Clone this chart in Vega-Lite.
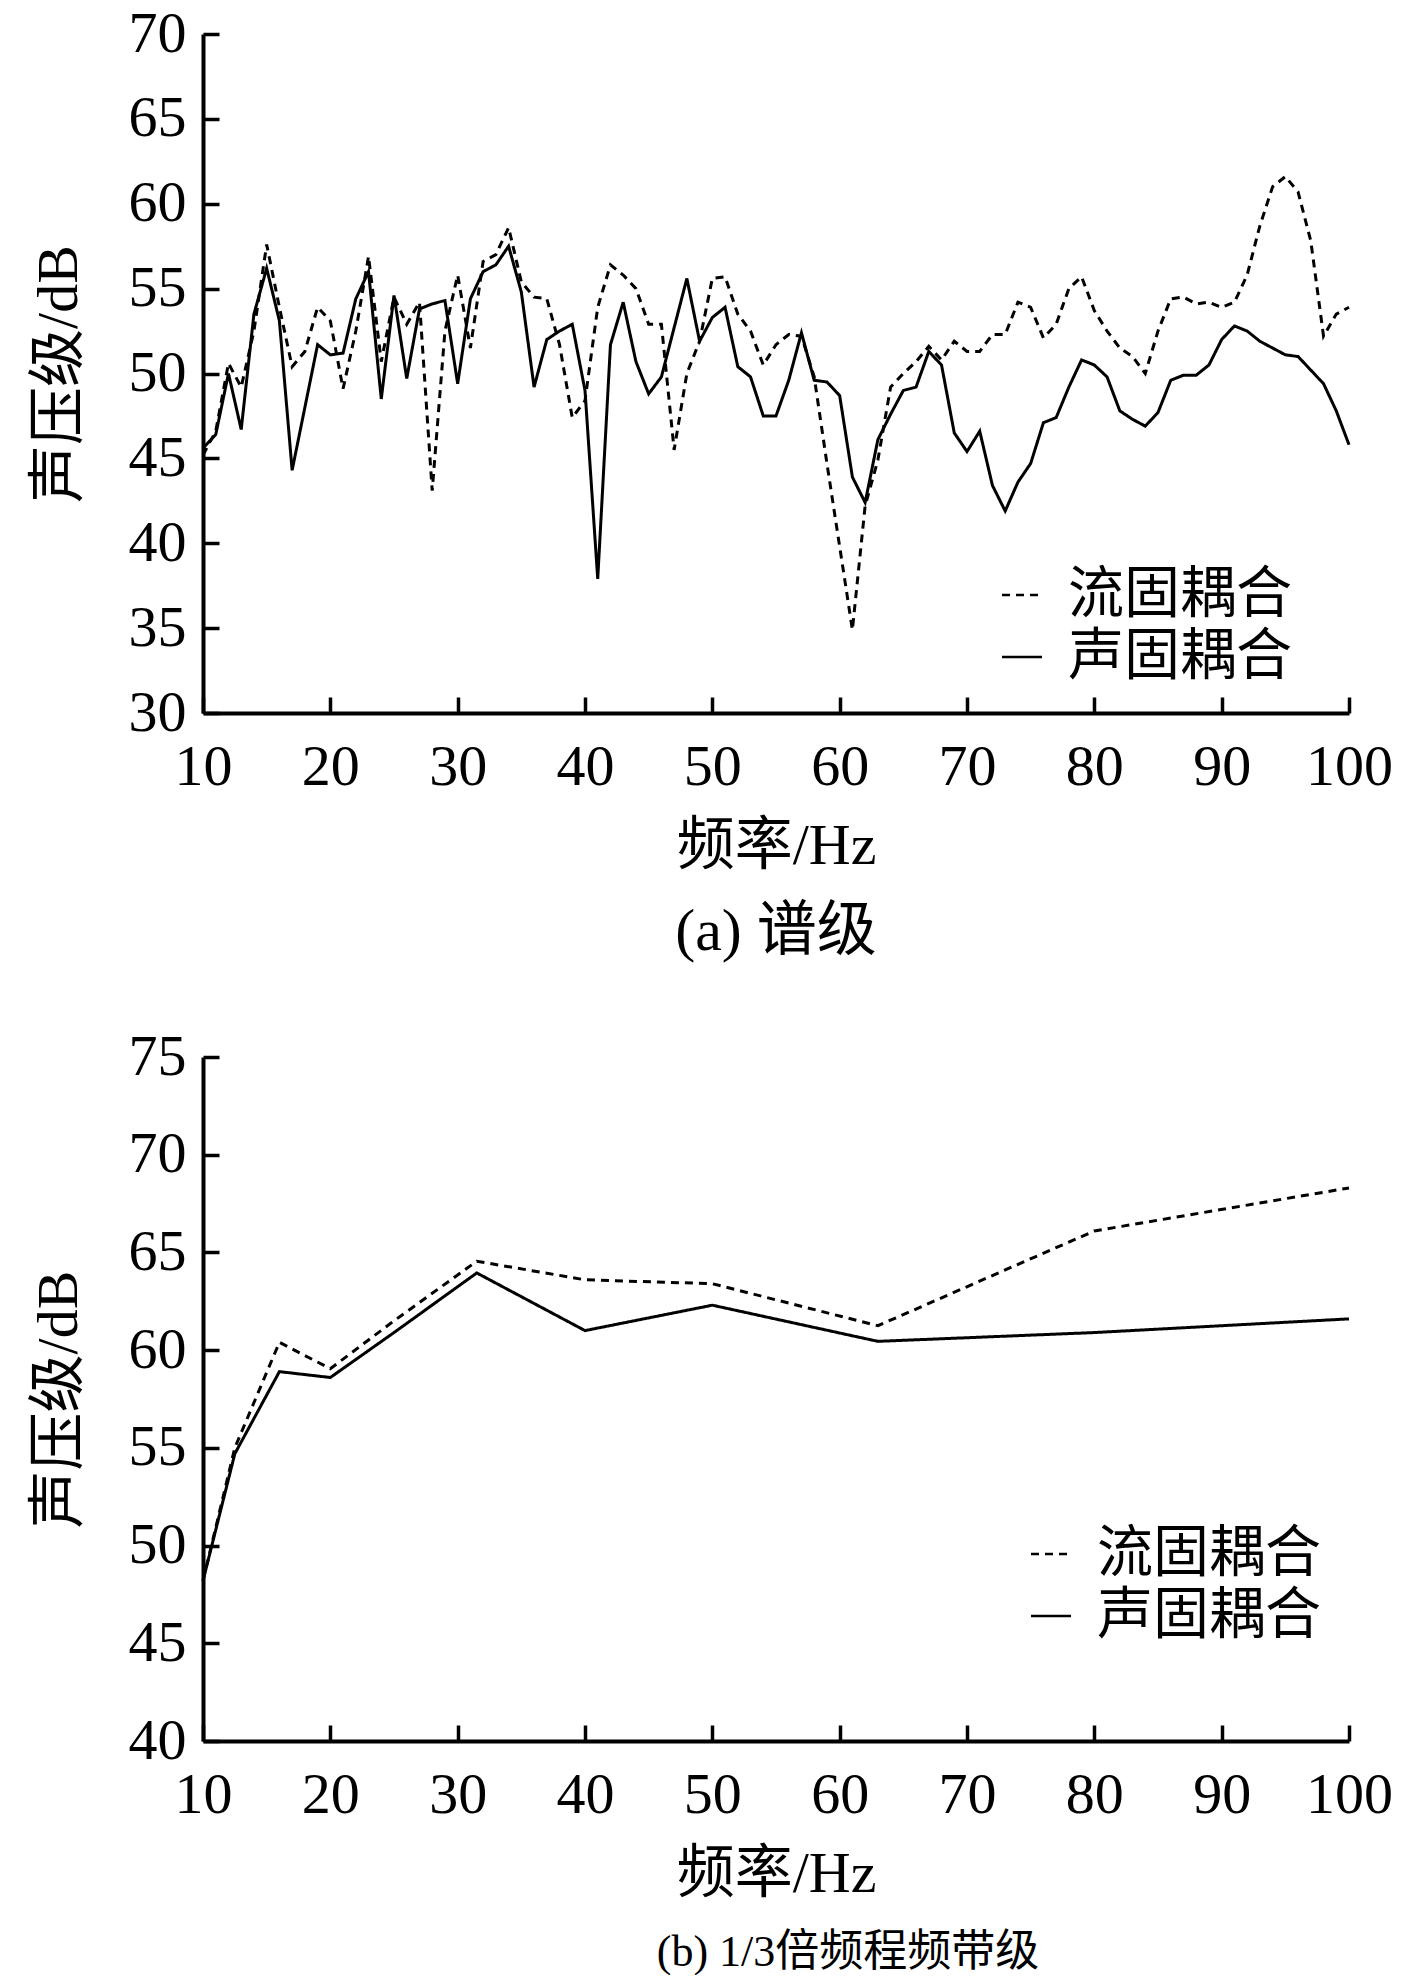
{
  "$schema": "https://vega.github.io/schema/vega-lite/v6.json",
  "background": "white",
  "padding": {"left": 30, "top": 5, "right": 0, "bottom": 0},
  "spacing": 66,
  "resolve": {"scale": {"strokeDash": "independent"}, "legend": {"strokeDash": "independent"}},
  "config": {
    "view": {"stroke": null},
    "axis": {
      "domainColor": "black", "domainWidth": 4, "tickColor": "black", "tickWidth": 3.5, "tickSize": -16,
      "labelFont": "Liberation Serif", "labelFontSize": 58, "labelColor": "black",
      "titleFont": "Liberation Serif, Noto Sans CJK SC", "titleFontSize": 58, "titleFontWeight": "normal", "titleColor": "black",
      "grid": false, "labelFlush": false, "labelOverlap": false
    },
    "axisX": {"labelPadding": 41, "titlePadding": 21},
    "axisY": {"labelPadding": 33, "titlePadding": 40},
    "legend": {
      "title": null, "symbolType": "stroke", "symbolSize": 1600, "symbolStrokeWidth": 2.5, "symbolStrokeColor": "black",
      "labelFont": "Noto Sans CJK SC", "labelFontSize": 56, "labelColor": "black", "labelOffset": 18, "labelLimit": 0, "rowPadding": 6, "padding": 0
    }
  },
  "datasets": {
    "spectrum": [
      {"freq":10,"series":"声固耦合","level":45.6},{"freq":11,"series":"声固耦合","level":46.4},{"freq":12,"series":"声固耦合","level":50.0},{"freq":13,"series":"声固耦合","level":46.7},{"freq":14,"series":"声固耦合","level":53.5},{"freq":15,"series":"声固耦合","level":56.2},{"freq":16,"series":"声固耦合","level":53.1},{"freq":17,"series":"声固耦合","level":44.3},{"freq":18,"series":"声固耦合","level":48.0},{"freq":19,"series":"声固耦合","level":51.7},
      {"freq":20,"series":"声固耦合","level":51.1},{"freq":21,"series":"声固耦合","level":51.2},{"freq":22,"series":"声固耦合","level":54.4},{"freq":23,"series":"声固耦合","level":56.0},{"freq":24,"series":"声固耦合","level":48.5},{"freq":25,"series":"声固耦合","level":54.6},{"freq":26,"series":"声固耦合","level":49.7},{"freq":27,"series":"声固耦合","level":53.8},{"freq":28,"series":"声固耦合","level":54.1},{"freq":29,"series":"声固耦合","level":54.3},
      {"freq":30,"series":"声固耦合","level":49.4},{"freq":31,"series":"声固耦合","level":54.4},{"freq":32,"series":"声固耦合","level":56.0},{"freq":33,"series":"声固耦合","level":56.4},{"freq":34,"series":"声固耦合","level":57.5},{"freq":35,"series":"声固耦合","level":54.8},{"freq":36,"series":"声固耦合","level":49.2},{"freq":37,"series":"声固耦合","level":52.0},{"freq":38,"series":"声固耦合","level":52.5},{"freq":39,"series":"声固耦合","level":52.9},
      {"freq":40,"series":"声固耦合","level":49.0},{"freq":41,"series":"声固耦合","level":37.9},{"freq":42,"series":"声固耦合","level":51.7},{"freq":43,"series":"声固耦合","level":54.2},{"freq":44,"series":"声固耦合","level":50.7},{"freq":45,"series":"声固耦合","level":48.8},{"freq":46,"series":"声固耦合","level":49.8},{"freq":47,"series":"声固耦合","level":52.7},{"freq":48,"series":"声固耦合","level":55.6},{"freq":49,"series":"声固耦合","level":51.9},
      {"freq":50,"series":"声固耦合","level":53.3},{"freq":51,"series":"声固耦合","level":53.9},{"freq":52,"series":"声固耦合","level":50.4},{"freq":53,"series":"声固耦合","level":49.8},{"freq":54,"series":"声固耦合","level":47.5},{"freq":55,"series":"声固耦合","level":47.5},{"freq":56,"series":"声固耦合","level":49.6},{"freq":57,"series":"声固耦合","level":52.4},{"freq":58,"series":"声固耦合","level":49.6},{"freq":59,"series":"声固耦合","level":49.5},
      {"freq":60,"series":"声固耦合","level":48.7},{"freq":61,"series":"声固耦合","level":43.9},{"freq":62,"series":"声固耦合","level":42.4},{"freq":63,"series":"声固耦合","level":46.1},{"freq":64,"series":"声固耦合","level":47.6},{"freq":65,"series":"声固耦合","level":49.0},{"freq":66,"series":"声固耦合","level":49.2},{"freq":67,"series":"声固耦合","level":51.3},{"freq":68,"series":"声固耦合","level":50.5},{"freq":69,"series":"声固耦合","level":46.5},
      {"freq":70,"series":"声固耦合","level":45.4},{"freq":71,"series":"声固耦合","level":46.6},{"freq":72,"series":"声固耦合","level":43.4},{"freq":73,"series":"声固耦合","level":41.9},{"freq":74,"series":"声固耦合","level":43.6},{"freq":75,"series":"声固耦合","level":44.7},{"freq":76,"series":"声固耦合","level":47.1},{"freq":77,"series":"声固耦合","level":47.4},{"freq":78,"series":"声固耦合","level":49.2},{"freq":79,"series":"声固耦合","level":50.8},
      {"freq":80,"series":"声固耦合","level":50.5},{"freq":81,"series":"声固耦合","level":49.8},{"freq":82,"series":"声固耦合","level":47.8},{"freq":83,"series":"声固耦合","level":47.3},{"freq":84,"series":"声固耦合","level":46.9},{"freq":85,"series":"声固耦合","level":47.7},{"freq":86,"series":"声固耦合","level":49.6},{"freq":87,"series":"声固耦合","level":49.9},{"freq":88,"series":"声固耦合","level":49.9},{"freq":89,"series":"声固耦合","level":50.5},
      {"freq":90,"series":"声固耦合","level":52.0},{"freq":91,"series":"声固耦合","level":52.8},{"freq":92,"series":"声固耦合","level":52.5},{"freq":93,"series":"声固耦合","level":51.9},{"freq":94,"series":"声固耦合","level":51.5},{"freq":95,"series":"声固耦合","level":51.1},{"freq":96,"series":"声固耦合","level":51.0},{"freq":97,"series":"声固耦合","level":50.2},{"freq":98,"series":"声固耦合","level":49.4},{"freq":99,"series":"声固耦合","level":47.8},
      {"freq":100,"series":"声固耦合","level":45.8},
      {"freq":10,"series":"流固耦合","level":45.2},{"freq":11,"series":"流固耦合","level":46.6},{"freq":12,"series":"流固耦合","level":50.6},{"freq":13,"series":"流固耦合","level":49.2},{"freq":14,"series":"流固耦合","level":52.5},{"freq":15,"series":"流固耦合","level":57.6},{"freq":16,"series":"流固耦合","level":53.9},{"freq":17,"series":"流固耦合","level":50.4},{"freq":18,"series":"流固耦合","level":51.3},{"freq":19,"series":"流固耦合","level":53.9},
      {"freq":20,"series":"流固耦合","level":53.1},{"freq":21,"series":"流固耦合","level":49.1},{"freq":22,"series":"流固耦合","level":52.5},{"freq":23,"series":"流固耦合","level":56.9},{"freq":24,"series":"流固耦合","level":50.7},{"freq":25,"series":"流固耦合","level":54.5},{"freq":26,"series":"流固耦合","level":52.9},{"freq":27,"series":"流固耦合","level":54.2},{"freq":28,"series":"流固耦合","level":43.1},{"freq":29,"series":"流固耦合","level":52.5},
      {"freq":30,"series":"流固耦合","level":55.8},{"freq":31,"series":"流固耦合","level":51.5},{"freq":32,"series":"流固耦合","level":56.6},{"freq":33,"series":"流固耦合","level":57.0},{"freq":34,"series":"流固耦合","level":58.6},{"freq":35,"series":"流固耦合","level":55.4},{"freq":36,"series":"流固耦合","level":54.5},{"freq":37,"series":"流固耦合","level":54.4},{"freq":38,"series":"流固耦合","level":51.7},{"freq":39,"series":"流固耦合","level":47.4},
      {"freq":40,"series":"流固耦合","level":48.4},{"freq":41,"series":"流固耦合","level":53.9},{"freq":42,"series":"流固耦合","level":56.4},{"freq":43,"series":"流固耦合","level":55.8},{"freq":44,"series":"流固耦合","level":55.0},{"freq":45,"series":"流固耦合","level":52.9},{"freq":46,"series":"流固耦合","level":52.9},{"freq":47,"series":"流固耦合","level":45.5},{"freq":48,"series":"流固耦合","level":50.0},{"freq":49,"series":"流固耦合","level":51.9},
      {"freq":50,"series":"流固耦合","level":55.6},{"freq":51,"series":"流固耦合","level":55.7},{"freq":52,"series":"流固耦合","level":53.5},{"freq":53,"series":"流固耦合","level":52.5},{"freq":54,"series":"流固耦合","level":50.5},{"freq":55,"series":"流固耦合","level":51.7},{"freq":56,"series":"流固耦合","level":52.3},{"freq":57,"series":"流固耦合","level":52.2},{"freq":58,"series":"流固耦合","level":49.8},{"freq":59,"series":"流固耦合","level":44.7},
      {"freq":60,"series":"流固耦合","level":39.8},{"freq":61,"series":"流固耦合","level":34.9},{"freq":62,"series":"流固耦合","level":42.2},{"freq":63,"series":"流固耦合","level":44.9},{"freq":64,"series":"流固耦合","level":49.2},{"freq":65,"series":"流固耦合","level":50.0},{"freq":66,"series":"流固耦合","level":50.7},{"freq":67,"series":"流固耦合","level":51.6},{"freq":68,"series":"流固耦合","level":50.8},{"freq":69,"series":"流固耦合","level":51.9},
      {"freq":70,"series":"流固耦合","level":51.3},{"freq":71,"series":"流固耦合","level":51.3},{"freq":72,"series":"流固耦合","level":52.3},{"freq":73,"series":"流固耦合","level":52.3},{"freq":74,"series":"流固耦合","level":54.2},{"freq":75,"series":"流固耦合","level":53.9},{"freq":76,"series":"流固耦合","level":52.1},{"freq":77,"series":"流固耦合","level":52.9},{"freq":78,"series":"流固耦合","level":55.0},{"freq":79,"series":"流固耦合","level":55.7},
      {"freq":80,"series":"流固耦合","level":53.7},{"freq":81,"series":"流固耦合","level":52.5},{"freq":82,"series":"流固耦合","level":51.5},{"freq":83,"series":"流固耦合","level":51.0},{"freq":84,"series":"流固耦合","level":50.0},{"freq":85,"series":"流固耦合","level":52.5},{"freq":86,"series":"流固耦合","level":54.4},{"freq":87,"series":"流固耦合","level":54.5},{"freq":88,"series":"流固耦合","level":54.1},{"freq":89,"series":"流固耦合","level":54.2},
      {"freq":90,"series":"流固耦合","level":53.9},{"freq":91,"series":"流固耦合","level":54.2},{"freq":92,"series":"流固耦合","level":55.8},{"freq":93,"series":"流固耦合","level":58.7},{"freq":94,"series":"流固耦合","level":61.0},{"freq":95,"series":"流固耦合","level":61.6},{"freq":96,"series":"流固耦合","level":60.7},{"freq":97,"series":"流固耦合","level":57.8},{"freq":98,"series":"流固耦合","level":52.2},{"freq":99,"series":"流固耦合","level":53.5},
      {"freq":100,"series":"流固耦合","level":53.9}
    ],
    "octave": [
      {"freq":10,"series":"声固耦合","level":48.2},{"freq":12.5,"series":"声固耦合","level":54.7},{"freq":16,"series":"声固耦合","level":58.9},{"freq":20,"series":"声固耦合","level":58.6},{"freq":25,"series":"声固耦合","level":60.9},{"freq":31.5,"series":"声固耦合","level":63.95},{"freq":40,"series":"声固耦合","level":61.0},{"freq":50,"series":"声固耦合","level":62.3},{"freq":63,"series":"声固耦合","level":60.45},{"freq":80,"series":"声固耦合","level":60.9},{"freq":100,"series":"声固耦合","level":61.6},
      {"freq":10,"series":"流固耦合","level":48.2},{"freq":12.5,"series":"流固耦合","level":55.0},{"freq":16,"series":"流固耦合","level":60.4},{"freq":20,"series":"流固耦合","level":59.05},{"freq":25,"series":"流固耦合","level":61.5},{"freq":31.5,"series":"流固耦合","level":64.55},{"freq":40,"series":"流固耦合","level":63.6},{"freq":50,"series":"流固耦合","level":63.4},{"freq":63,"series":"流固耦合","level":61.25},{"freq":80,"series":"流固耦合","level":66.1},{"freq":100,"series":"流固耦合","level":68.3}
    ]
  },
  "vconcat": [
    {
      "width": 1146, "height": 679,
      "data": {"name": "spectrum"},
      "title": {"text": "(a) 谱级", "orient": "bottom", "offset": 28, "fontSize": 60, "font": "Liberation Serif, Noto Sans CJK SC", "fontWeight": "normal", "color": "black", "anchor": "middle"},
      "mark": {"type": "line", "color": "black", "strokeWidth": 3},
      "encoding": {
        "x": {"field": "freq", "type": "quantitative", "scale": {"domain": [10, 100], "nice": false, "zero": false}, "axis": {"title": "频率/Hz", "values": [10, 20, 30, 40, 50, 60, 70, 80, 90, 100]}},
        "y": {"field": "level", "type": "quantitative", "scale": {"domain": [30, 70], "nice": false, "zero": false}, "axis": {"title": "声压级/dB", "values": [30, 35, 40, 45, 50, 55, 60, 65, 70]}},
        "strokeDash": {"field": "series", "type": "nominal", "scale": {"domain": ["流固耦合", "声固耦合"], "range": [[8, 6], [1, 0]]}, "legend": {"orient": "none", "legendX": 791, "legendY": 533}}
      }
    },
    {
      "width": 1146, "height": 684,
      "data": {"name": "octave"},
      "title": {"text": "(b) 1/3倍频程频带级", "orient": "bottom", "offset": 28, "fontSize": 44, "font": "Liberation Serif, Noto Sans CJK SC", "fontWeight": "normal", "color": "black", "anchor": "middle", "dx": 72},
      "mark": {"type": "line", "color": "black", "strokeWidth": 3},
      "encoding": {
        "x": {"field": "freq", "type": "quantitative", "scale": {"domain": [10, 100], "nice": false, "zero": false}, "axis": {"title": "频率/Hz", "values": [10, 20, 30, 40, 50, 60, 70, 80, 90, 100]}},
        "y": {"field": "level", "type": "quantitative", "scale": {"domain": [40, 75], "nice": false, "zero": false}, "axis": {"title": "声压级/dB", "values": [40, 45, 50, 55, 60, 65, 70, 75]}},
        "strokeDash": {"field": "series", "type": "nominal", "scale": {"domain": ["流固耦合", "声固耦合"], "range": [[8, 6], [1, 0]]}, "legend": {"orient": "none", "legendX": 820, "legendY": 469}}
      }
    }
  ]
}
